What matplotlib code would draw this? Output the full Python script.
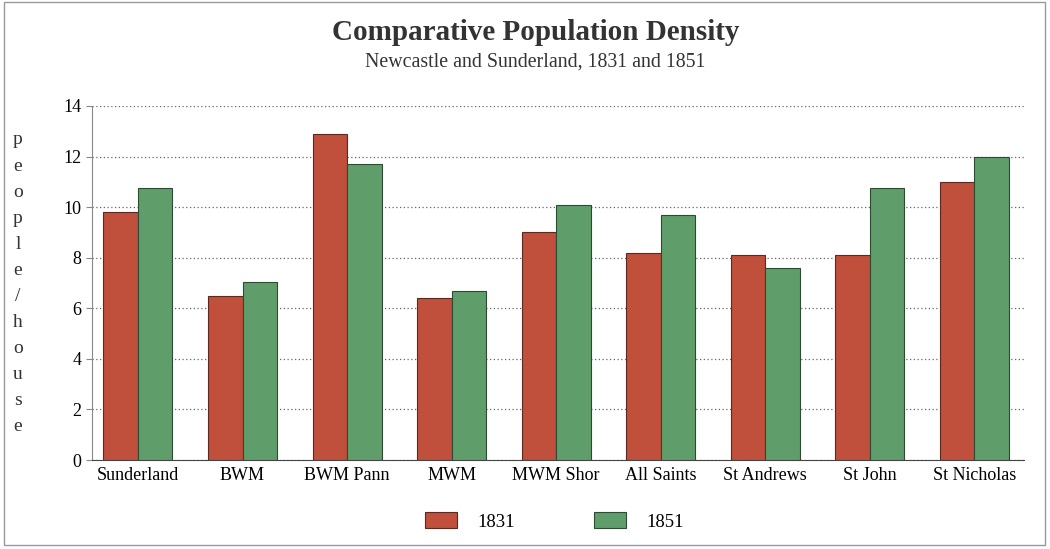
import matplotlib
matplotlib.use("Agg")
import matplotlib.pyplot as plt
import numpy as np
from matplotlib.patches import Rectangle

districts = ["Sunderland", "BWM", "BWM Pann", "MWM", "MWM Shor",
             "All Saints", "St Andrews", "St John", "St Nicholas"]
d1831 = [9.8, 6.5, 12.9, 6.4, 9.0, 8.2, 8.1, 8.1, 11.0]
d1851 = [10.75, 7.05, 11.7, 6.7, 10.1, 9.7, 7.6, 10.75, 12.0]

plt.rcParams['font.family'] = ['Liberation Serif', 'DejaVu Serif']

fig = plt.figure(figsize=(10.5, 5.49), dpi=100)
ax = fig.add_axes([0.0876, 0.162, 0.888, 0.645])

x = np.arange(len(districts))
w = 0.33
ax.bar(x - w/2, d1831, w, color='#c0503c', edgecolor='#5a2a20', linewidth=0.8, label='1831', zorder=3)
ax.bar(x + w/2, d1851, w, color='#5f9e6a', edgecolor='#2f4a34', linewidth=0.8, label='1851', zorder=3)

ax.set_xlim(-0.44, 8.48)
ax.set_ylim(0, 14)
ax.set_yticks(range(0, 15, 2))
ax.set_xticks(x)
ax.set_xticklabels(districts, fontsize=13)
ax.tick_params(axis='y', labelsize=13, length=4, direction='out', color='#888888')
ax.tick_params(axis='x', length=0, pad=5)
ax.grid(axis='y', linestyle=(0, (1, 2)), color='#666666', linewidth=0.9, zorder=0)
for s in ['top', 'right']:
    ax.spines[s].set_visible(False)
ax.spines['left'].set_color('#888888')
ax.spines['bottom'].set_color('#444444')

fig.text(0.51, 0.94, "Comparative Population Density", ha='center', va='center',
         fontsize=21, fontweight='bold', color='#333333')
fig.text(0.51, 0.887, "Newcastle and Sunderland, 1831 and 1851", ha='center', va='center',
         fontsize=14.3, color='#333333')

ylab = "people/house"
for i, ch in enumerate(ylab):
    fig.text(0.017, 0.745 - i * 0.0475, ch, ha='center', va='center', fontsize=14, color='#333333')

ax.legend(loc='upper center', bbox_to_anchor=(0.496, -0.1), ncol=2, frameon=False,
          fontsize=13.5, handlelength=1.7, handleheight=0.9, columnspacing=4.2, handletextpad=1.1)

fig.patches.append(Rectangle((0.004, 0.008), 0.991, 0.988, transform=fig.transFigure,
                             fill=False, edgecolor='#999999', linewidth=1))

fig.savefig("out.png", dpi=100)
